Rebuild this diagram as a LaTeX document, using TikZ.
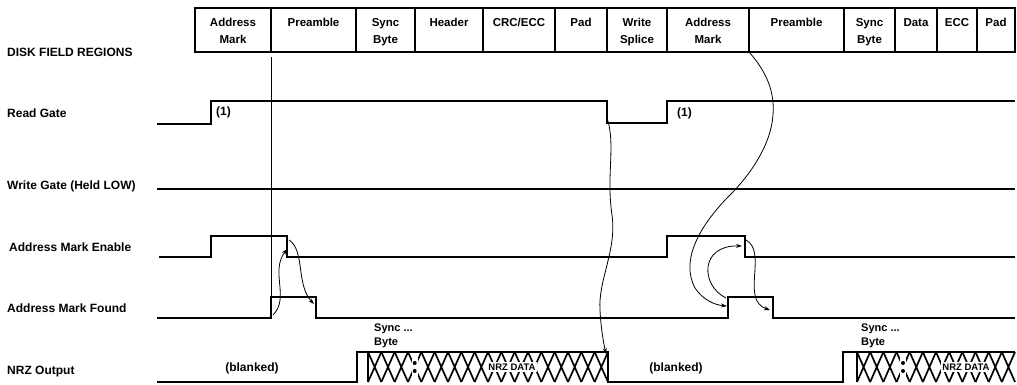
\documentclass[tikz,border=0pt]{standalone}
\usepackage{fontspec}
\setmainfont{Liberation Sans}
\usepackage{tikz}
\usetikzlibrary{positioning, arrows.meta}

\begin{document}
\begin{tikzpicture}[x=1pt, y=-1pt,
          font=\fontsize{12}{14}\selectfont\bfseries,
          field/.style={draw, line width=2.4pt, minimum height=44pt,
                        inner sep=0pt, outer sep=0pt, anchor=north west},
          fieldtxt/.style={anchor=north, inner sep=0pt, yshift=-10pt, align=center,
                           font=\fontsize{11.5}{17}\selectfont\bfseries},
          rowlbl/.style={anchor=west, inner sep=0pt},
          note/.style={inner sep=0pt},
          sig/.style={line width=2.8pt},
          bus/.style={line width=1.7pt},
          busnote/.style={fill=white, inner xsep=1pt, inner ysep=2pt,
                          font=\fontsize{9.5}{10}\selectfont\bfseries},
          gap/.style={fill=white, inner sep=0pt, minimum width=6pt, minimum height=20pt},
          cursor/.style={line width=0.8pt},
          cause/.style={line width=0.8pt, -{Stealth[length=6pt, width=4pt]}}
        ]
        \useasboundingbox (0,0) rectangle (1017,384);

        % Disk fields
        \node[field, minimum width=76pt] (am1) at (195,8) {};
        \node[field, minimum width=85pt] (pre1) at (am1.north east) {};
        \node[field, minimum width=59pt] (sb1) at (pre1.north east) {};
        \node[field, minimum width=68pt] (hdr) at (sb1.north east) {};
        \node[field, minimum width=72pt] (crc) at (hdr.north east) {};
        \node[field, minimum width=52pt] (pad1) at (crc.north east) {};
        \node[field, minimum width=60pt] (ws) at (pad1.north east) {};
        \node[field, minimum width=82pt] (am2) at (ws.north east) {};
        \node[field, minimum width=95pt] (pre2) at (am2.north east) {};
        \node[field, minimum width=51pt] (sb2) at (pre2.north east) {};
        \node[field, minimum width=42pt] (dat) at (sb2.north east) {};
        \node[field, minimum width=40pt] (ecc) at (dat.north east) {};
        \node[field, minimum width=38pt] (pad2) at (ecc.north east) {};

        \node[fieldtxt] (am1t) at (am1.north) {Address\\Mark};
        \node[fieldtxt] (pre1t) at (pre1.north) {Preamble};
        \node[fieldtxt] (sb1t) at (sb1.north) {Sync\\Byte};
        \node[fieldtxt] (hdrt) at (hdr.north) {Header};
        \node[fieldtxt] (crct) at (crc.north) {CRC/ECC};
        \node[fieldtxt] (pad1t) at (pad1.north) {Pad};
        \node[fieldtxt] (wst) at (ws.north) {Write\\Splice};
        \node[fieldtxt] (am2t) at (am2.north) {Address\\Mark};
        \node[fieldtxt] (pre2t) at (pre2.north) {Preamble};
        \node[fieldtxt] (sb2t) at (sb2.north) {Sync\\Byte};
        \node[fieldtxt] (datt) at (dat.north) {Data};
        \node[fieldtxt] (ecct) at (ecc.north) {ECC};
        \node[fieldtxt] (pad2t) at (pad2.north) {Pad};

        % Row names
        \node[rowlbl] (dfr) at (7,52) {DISK FIELD REGIONS};
        \node[rowlbl] (rgl) at (7,113) {Read Gate};
        \node[rowlbl] (wgl) at (7,186) {Write Gate (Held LOW)};
        \node[rowlbl] (amel) at (9,247) {Address Mark Enable};
        \node[rowlbl] (amfl) at (7,308) {Address Mark Found};
        \node[rowlbl] (nrzl) at (7,372) {NRZ Output};

        % Waveforms
        \draw[sig] (157,124) -- (211,124) -- (211,101) -- (607,101) -- (607,123)
                   -- (667,123) -- (667,101) -- (1015,101);
        \draw[sig] (157,189) -- (1015,189);
        \draw[sig] (159,257) -- (211,257) -- (211,236) -- (287,236) -- (287,257)
                   -- (667,257) -- (667,236) -- (745,236) -- (745,257) -- (1015,257);
        \draw[sig] (157,318) -- (271,318) -- (271,297) -- (316,297) -- (316,318)
                   -- (728,318) -- (728,297) -- (773,297) -- (773,318) -- (1015,318);
        \draw[sig] (157,382) -- (357,382) -- (357,352) -- (608,352) -- (608,382)
                   -- (843,382) -- (843,352) -- (1015,352);
        \draw[sig] (368,352) -- (368,382);
        \draw[sig] (857,352) -- (857,382);

        % NRZ data
        \foreach \i in {0,...,17}
          \draw[bus] ({368+\i*13.333},352) -- ++(13.333,30)
                     ({368+\i*13.333},382) -- ++(13.333,-30);
        \foreach \i in {0,...,11}
          \draw[bus] ({857+\i*13.167},352) -- ++(13.167,30)
                     ({857+\i*13.167},382) -- ++(13.167,-30);
        \node[gap] (dots1) at (414.7,367) {};
        \node[gap] (dots2) at (903,367) {};
        \foreach \d in {dots1, dots2} {
          \fill ([yshift=4pt]\d.center) circle (2pt);
          \fill ([yshift=-4pt]\d.center) circle (2pt);
        }
        \node[busnote] (data1) at (512,367) {NRZ DATA};
        \node[busnote] (data2) at (966,367) {NRZ DATA};

        % Labels
        \node[note, anchor=west] (one1) at (216,112) {(1)};
        \node[note, anchor=west] (one2) at (677,113) {(1)};
        \node[note] (blank1) at (252,368) {(blanked)};
        \node[note] (blank2) at (676,368) {(blanked)};
        \node[note, anchor=west, align=left, font=\fontsize{11}{14}\selectfont\bfseries]
              (sync1) at (374,336) {Sync ...\\ Byte};
        \node[note, anchor=west, align=left, font=\fontsize{11}{14}\selectfont\bfseries]
              (sync2) at (861,336) {Sync ...\\ Byte};

        % Points on the edges
        \coordinate (amf1top) at (271,297);
        \coordinate (amf1rise) at (273,315);
        \coordinate (ame1fall) at (287,249);
        \coordinate (ame1top) at (289,240);
        \coordinate (amf1fall) at (314,304);
        \coordinate (splice) at (607,118);
        \coordinate (nrz1end) at (606,354);
        \coordinate (amf2rise) at (726,298);
        \coordinate (amf2edge) at (727,306);
        \coordinate (ame2fall) at (742,246);
        \coordinate (ame2top) at (746,240);
        \coordinate (amf2fall) at (770,310);

        % Cause and effect
        \draw[cursor] ([yshift=-5pt]am1.south east) -- (amf1top);
        \draw[cause] (amf1rise) .. controls (290,298) and (270,272) .. (ame1fall);
        \draw[cause] (ame1top) .. controls (305,250) and (296,285) .. (amf1fall);
        \draw[cause] (splice) .. controls (616,145) and (606,175) .. (612,215)
                     .. controls (617,250) and (598,280) .. (600,310)
                     .. controls (601,330) and (604,345) .. (nrz1end);
        \draw[cause] (am2.south east) .. controls (765,70) and (775,90) .. (773,115)
                     .. controls (771,145) and (750,175) .. (730,195)
                     .. controls (700,225) and (680,260) .. (695,288)
                     .. controls (703,300) and (715,305) .. (amf2edge);
        \draw[cause] (amf2rise) .. controls (700,285) and (700,245) .. (ame2fall);
        \draw[cause] (ame2top) .. controls (768,252) and (740,300) .. (amf2fall);
      \end{tikzpicture}
\end{document}
